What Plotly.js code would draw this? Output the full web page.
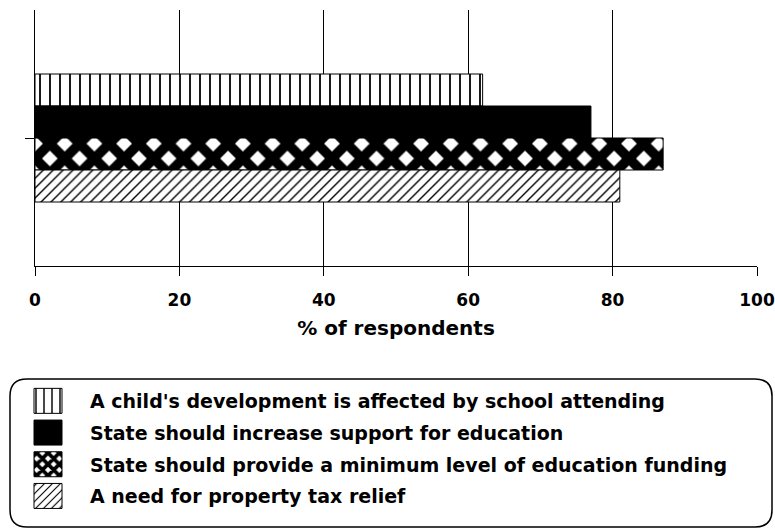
<!DOCTYPE html>
<html>
<head>
<meta charset="utf-8">
<script src="https://cdn.plot.ly/plotly-3.0.1.min.js"></script>
<style>html,body{margin:0;padding:0;background:#fff;}#chart{width:775px;height:531px;}</style>
</head>
<body>
<div id="chart"></div>
<script>
// ---- data ----
var category = ['Survey'];
var seriesNames = [
  "A child's development is affected by school attending",
  "State should increase support for education",
  "State should provide a minimum level of education funding",
  "A need for property tax relief"
];
var seriesValues = [62, 77, 87, 81];
var xTickValues = [0, 20, 40, 60, 80, 100];
var xTitle = '% of respondents';

// ---- styles ----
var patterns = [
  {shape: '|', bgcolor: '#ffffff', fgcolor: '#000000', size: 10, solidity: 0.18},
  {shape: '', bgcolor: '#000000', fgcolor: '#000000', size: 8, solidity: 0.3},
  {shape: 'x', bgcolor: '#ffffff', fgcolor: '#000000', size: 21, solidity: 0.72},
  {shape: '/', bgcolor: '#ffffff', fgcolor: '#000000', size: 7, solidity: 0.2}
];
var fills = ['#ffffff', '#000000', '#ffffff', '#ffffff'];

var W = 775, H = 531;
var M = {l: 35, r: 18, t: 10, b: 265, autoexpand: false};
var pw = W - M.l - M.r, ph = H - M.t - M.b;
function px(x) { return (x - M.l) / pw; }
function py(y) { return (H - M.b - y) / ph; }

var traces = seriesNames.map(function (name, i) {
  return {
    type: 'bar',
    orientation: 'h',
    name: name,
    legendgroup: 'g' + i,
    y: category,
    x: [seriesValues[i]],
    marker: {
      color: fills[i],
      pattern: patterns[i],
      line: {color: '#000000', width: 1}
    },
    hoverinfo: 'x+name'
  };
});

// rounded legend frame
var bx0 = 10, bx1 = 772, by0 = 379, by1 = 527, r = 17;
function P(x, y) { return px(x).toFixed(5) + ',' + py(y).toFixed(5); }
var framePath = 'M' + P(bx0 + r, by0) + ' L' + P(bx1 - r, by0) +
  ' Q' + P(bx1, by0) + ' ' + P(bx1, by0 + r) +
  ' L' + P(bx1, by1 - r) + ' Q' + P(bx1, by1) + ' ' + P(bx1 - r, by1) +
  ' L' + P(bx0 + r, by1) + ' Q' + P(bx0, by1) + ' ' + P(bx0, by1 - r) +
  ' L' + P(bx0, by0 + r) + ' Q' + P(bx0, by0) + ' ' + P(bx0 + r, by0) + ' Z';

var fontFam = '"DejaVu Sans", Verdana, sans-serif';

var layout = {
  width: W, height: H,
  margin: M,
  paper_bgcolor: '#ffffff',
  plot_bgcolor: '#ffffff',
  barmode: 'group',
  bargap: 0.5,
  bargroupgap: 0,
  font: {family: fontFam, color: '#000000', size: 17, weight: 'bold'},
  xaxis: {
    range: [0, 100],
    tickvals: xTickValues,
    ticktext: xTickValues.map(String),
    ticks: 'outside', ticklen: 9, tickwidth: 1, tickcolor: '#000000',
    ticklabelstandoff: 10,
    showgrid: true, gridcolor: '#000000', gridwidth: 1,
    showline: true, linecolor: '#000000', linewidth: 1,
    zeroline: false,
    tickfont: {family: fontFam, size: 17, color: '#000000', weight: 'bold'},
    title: {text: xTitle, font: {family: fontFam, size: 20, color: '#000000', weight: 'bold'}, standoff: 11},
    fixedrange: true
  },
  yaxis: {
    type: 'category',
    autorange: 'reversed',
    showticklabels: false,
    ticks: 'outside', ticklen: 9, tickwidth: 1, tickcolor: '#000000',
    showgrid: false, zeroline: false,
    showline: true, linecolor: '#000000', linewidth: 1,
    fixedrange: true
  },
  showlegend: true,
  legend: {
    x: px(6), xanchor: 'left',
    y: py(382), yanchor: 'top',
    traceorder: 'grouped',
    tracegroupgap: 4,
    itemwidth: 74,
    bgcolor: 'rgba(0,0,0,0)',
    borderwidth: 0,
    font: {family: fontFam, size: 19, color: '#000000', weight: 'bold'}
  },
  shapes: [{
    type: 'path', xref: 'paper', yref: 'paper', path: framePath,
    line: {color: '#000000', width: 1.5}, fillcolor: 'rgba(0,0,0,0)', layer: 'below'
  }]
};

Plotly.newPlot('chart', traces, layout, {displayModeBar: false, staticPlot: true}).then(function (gd) {
  // enlarge legend swatches to match the reference's bigger key boxes
  var syms = gd.querySelectorAll('.legend .legendpoints path');
  syms.forEach(function (p) {
    p.setAttribute('d', 'M14,12.5H-14V-12.5H14Z');
  });
});
</script>
</body>
</html>
